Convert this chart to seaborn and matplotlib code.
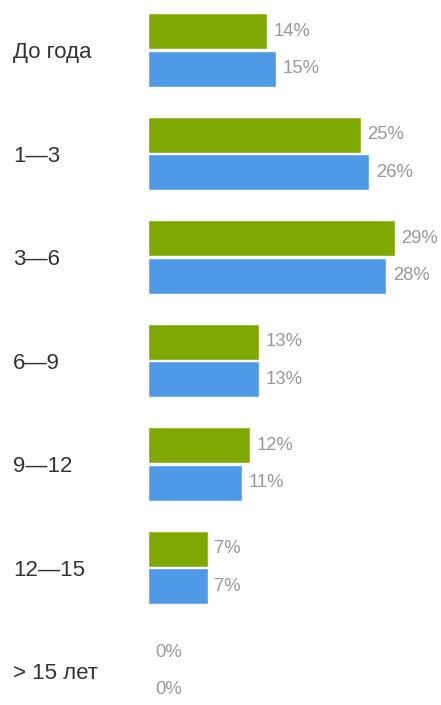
import matplotlib
matplotlib.use("Agg")
import matplotlib.pyplot as plt
import seaborn as sns
import pandas as pd

# Experience ranges and share of respondents (percent) for two groups
categories = ["До года", "1—3", "3—6", "6—9", "9—12", "12—15", "> 15 лет"]
series_names = ["Ряд 1", "Ряд 2"]
green_values = [14, 25, 29, 13, 12, 7, 0]
blue_values = [15, 26, 28, 13, 11, 7, 0]
colors = ["#7fa800", "#4f9ae6"]

df = pd.DataFrame({
    "category": categories * 2,
    "value": green_values + blue_values,
    "series": [series_names[0]] * len(categories) + [series_names[1]] * len(categories),
})

sns.set_theme(style="white")
plt.rcParams["font.family"] = ["Liberation Sans", "DejaVu Sans"]

W, H = 441, 705
fig = plt.figure(figsize=(W / 100, H / 100), dpi=100)
left_px = 148
ax = fig.add_axes([left_px / W, 0, 1 - left_px / W, 1])

sns.barplot(data=df, y="category", x="value", hue="series", orient="h",
            palette=colors, width=0.73, gap=0.05, saturation=1,
            order=categories, hue_order=series_names, legend=False, ax=ax)

px_per_unit = 8.5
ax.set_xlim(0, (W - left_px) / px_per_unit)
pitch, first_center = 103.5, 50
ax.set_ylim((H - first_center) / pitch, -first_center / pitch)

for container in ax.containers:
    vals = [int(round(b.get_width())) for b in container]
    ax.bar_label(container, labels=[f"{v}%" for v in vals], padding=5,
                 color="#999999", fontsize=13.3)

ax.set_xlabel("")
ax.set_ylabel("")
ax.set_xticks([])
for s in ax.spines.values():
    s.set_visible(False)
ax.tick_params(axis="y", length=0, pad=(left_px - 13) * 0.72, labelsize=16,
               labelcolor="#333333")
for lbl in ax.get_yticklabels():
    lbl.set_horizontalalignment("left")

fig.savefig("out.png", dpi=100, facecolor="white")
